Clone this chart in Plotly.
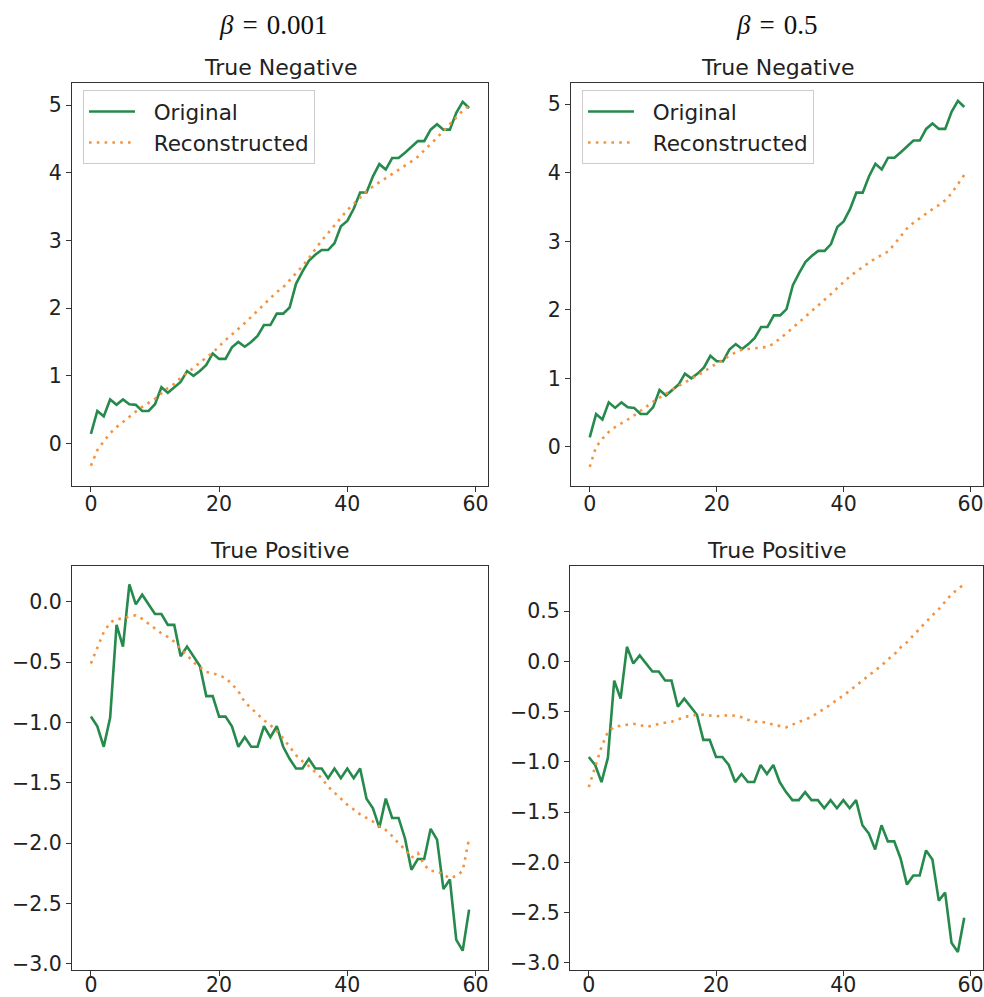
import plotly.graph_objects as go

x_steps = list(range(60))

tn_original = [0.14, 0.48, 0.40, 0.65, 0.57, 0.65, 0.58, 0.57, 0.48, 0.48,
               0.58, 0.83, 0.75, 0.83, 0.91, 1.07, 1.00, 1.07, 1.16, 1.33,
               1.25, 1.25, 1.42, 1.50, 1.43, 1.50, 1.59, 1.75, 1.75, 1.92,
               1.92, 2.01, 2.36, 2.54, 2.70, 2.79, 2.86, 2.86, 2.96, 3.21,
               3.29, 3.47, 3.71, 3.71, 3.95, 4.13, 4.05, 4.22, 4.22, 4.30,
               4.39, 4.47, 4.47, 4.64, 4.72, 4.64, 4.64, 4.89, 5.05, 4.96]

tn_recon_b0001 = [-0.33, -0.10, 0.03, 0.15, 0.24, 0.32, 0.40, 0.47, 0.54, 0.60,
                  0.66, 0.74, 0.82, 0.88, 0.97, 1.04, 1.12, 1.19, 1.27, 1.34,
                  1.44, 1.53, 1.61, 1.69, 1.78, 1.87, 1.96, 2.05, 2.15, 2.24,
                  2.31, 2.41, 2.51, 2.62, 2.74, 2.87, 3.00, 3.11, 3.22, 3.33,
                  3.45, 3.54, 3.64, 3.73, 3.80, 3.86, 3.92, 3.98, 4.04, 4.10,
                  4.17, 4.24, 4.33, 4.42, 4.52, 4.62, 4.72, 4.82, 4.92, 4.99]

tn_recon_b05 = [-0.29, 0.00, 0.12, 0.22, 0.29, 0.34, 0.40, 0.46, 0.53, 0.59,
                0.66, 0.72, 0.78, 0.84, 0.89, 0.94, 0.99, 1.05, 1.10, 1.16,
                1.22, 1.28, 1.33, 1.38, 1.42, 1.43, 1.44, 1.45, 1.46, 1.51,
                1.58, 1.66, 1.74, 1.82, 1.90, 1.99, 2.07, 2.15, 2.23, 2.32,
                2.41, 2.49, 2.56, 2.63, 2.69, 2.75, 2.80, 2.85, 2.96, 3.08,
                3.19, 3.27, 3.34, 3.41, 3.47, 3.53, 3.60, 3.70, 3.83, 3.97]

tp_original = [-0.95, -1.03, -1.20, -0.96, -0.19, -0.37, 0.146, -0.02, 0.06, -0.02,
               -0.10, -0.10, -0.19, -0.19, -0.45, -0.37, -0.45, -0.53, -0.78, -0.78,
               -0.95, -0.95, -1.03, -1.20, -1.12, -1.20, -1.20, -1.03, -1.12, -1.03,
               -1.20, -1.30, -1.38, -1.38, -1.30, -1.38, -1.38, -1.46, -1.38, -1.46,
               -1.38, -1.46, -1.38, -1.63, -1.71, -1.87, -1.63, -1.79, -1.79, -1.96,
               -2.22, -2.13, -2.13, -1.88, -1.97, -2.38, -2.30, -2.80, -2.89, -2.55]

tp_recon_b0001 = [-0.51, -0.38, -0.25, -0.17, -0.14, -0.14, -0.12, -0.11, -0.14, -0.18,
                  -0.22, -0.26, -0.29, -0.33, -0.39, -0.44, -0.50, -0.54, -0.58, -0.59,
                  -0.61, -0.63, -0.68, -0.74, -0.83, -0.88, -0.93, -0.98, -1.02, -1.07,
                  -1.13, -1.20, -1.27, -1.32, -1.36, -1.41, -1.46, -1.53, -1.58, -1.63,
                  -1.68, -1.72, -1.76, -1.79, -1.82, -1.86, -1.89, -1.94, -2.00, -2.05,
                  -2.12, -2.08, -2.18, -2.23, -2.23, -2.26, -2.29, -2.27, -2.23, -1.96]

tp_recon_b05 = [-1.25, -1.05, -0.85, -0.70, -0.65, -0.64, -0.63, -0.62, -0.63, -0.65,
                -0.64, -0.62, -0.61, -0.60, -0.58, -0.55, -0.545, -0.53, -0.53, -0.54,
                -0.545, -0.54, -0.535, -0.54, -0.555, -0.58, -0.60, -0.60, -0.61, -0.63,
                -0.64, -0.655, -0.63, -0.60, -0.58, -0.55, -0.51, -0.47, -0.43, -0.38,
                -0.34, -0.29, -0.24, -0.19, -0.14, -0.09, -0.04, 0.02, 0.07, 0.14,
                0.19, 0.26, 0.33, 0.39, 0.46, 0.52, 0.60, 0.67, 0.72, 0.77]

column_titles = ["<i>β</i>\u2004=\u20040.001", "<i>β</i>\u2004=\u20040.5"]
panel_titles = ["True Negative", "True Negative", "True Positive", "True Positive"]
series_names = ["Original", "Reconstructed"]

W, H = 984, 997
GREEN = "#268a4c"
ORANGE = "#f5923e"
FONT = "DejaVu Sans"
FS = 20.5
AX = "#333333"

# panel boxes in pixels: (left, right, top, bottom)
boxes = [(72, 488, 83, 486), (571, 983, 83, 486),
         (72, 488, 566, 970), (570, 983, 566, 970)]
yranges = [[-0.63, 5.33], [-0.57, 5.31], [-3.05, 0.298], [-3.07, 0.95]]
ytickvals = [[0, 1, 2, 3, 4, 5], [0, 1, 2, 3, 4, 5],
             [-3.0, -2.5, -2.0, -1.5, -1.0, -0.5, 0.0],
             [-3.0, -2.5, -2.0, -1.5, -1.0, -0.5, 0.0, 0.5]]
ytickfmt = ["d", "d", ".1f", ".1f"]
xstandoff = [-6, -6, -9, -9]

panels = [(tn_original, tn_recon_b0001), (tn_original, tn_recon_b05),
          (tp_original, tp_recon_b0001), (tp_original, tp_recon_b05)]

fig = go.Figure()
layout = dict(width=W, height=H, margin=dict(l=0, r=0, t=0, b=0, autoexpand=False),
              paper_bgcolor="white", plot_bgcolor="white",
              font=dict(family=FONT, size=FS, color="#222222"),
              annotations=[])

pad = "\u00a0\u00a0"
for k, ((orig, rec), (l, r, t, b)) in enumerate(zip(panels, boxes)):
    n = k + 1
    xa = "xaxis" if n == 1 else f"xaxis{n}"
    ya = "yaxis" if n == 1 else f"yaxis{n}"
    xr = "x" if n == 1 else f"x{n}"
    yr = "y" if n == 1 else f"y{n}"
    show = k < 2
    leg = "legend2" if k == 1 else "legend"
    fig.add_trace(go.Scatter(x=x_steps, y=orig, mode="lines", name=pad + series_names[0],
                             line=dict(color=GREEN, width=2.6),
                             xaxis=xr, yaxis=yr, showlegend=show, legend=leg))
    fig.add_trace(go.Scatter(x=x_steps, y=rec, mode="lines", name=pad + series_names[1],
                             line=dict(color=ORANGE, width=2.6, dash="2.6px,5.2px"),
                             xaxis=xr, yaxis=yr, showlegend=show, legend=leg))
    common = dict(showline=True, mirror=True, linecolor=AX, linewidth=1.1,
                  ticks="outside", ticklen=5, tickwidth=1.1, tickcolor=AX,
                  showgrid=False, zeroline=False, automargin=False,
                  tickfont=dict(family=FONT, size=FS, color="#222222"))
    layout[xa] = dict(domain=[l / W, r / W], range=[-2.95, 61.95],
                      tickvals=[0, 20, 40, 60], anchor=yr,
                      ticklabelstandoff=xstandoff[k], **common)
    layout[ya] = dict(domain=[1 - b / H, 1 - t / H], range=yranges[k],
                      tickvals=ytickvals[k], tickformat=ytickfmt[k], anchor=xr,
                      **common)
    layout["annotations"].append(dict(
        text=panel_titles[k], xref="paper", yref="paper",
        x=(l + r) / 2 / W, y=1 - (t - 16) / H, xanchor="center", yanchor="middle",
        showarrow=False, font=dict(family=FONT, size=22, color="#222222")))

for txt, cx in zip(column_titles, [272.5, 776]):
    layout["annotations"].append(dict(
        text=txt, xref="paper", yref="paper", x=cx / W, y=1 - 25 / H,
        xanchor="center", yanchor="middle", showarrow=False,
        font=dict(family="Liberation Serif", size=27, color="#111111")))

legend_common = dict(bgcolor="rgba(255,255,255,0.8)", bordercolor="#cccccc",
                     borderwidth=1, font=dict(family=FONT, size=21.5, color="#222222"),
                     xanchor="left", yanchor="top", itemwidth=46,
                     tracegroupgap=0)
layout["legend"] = dict(x=83 / W, y=1 - 90 / H, **legend_common)
layout["legend2"] = dict(x=582 / W, y=1 - 90 / H, **legend_common)

fig.update_layout(**layout)
fig.write_html("out.html")
